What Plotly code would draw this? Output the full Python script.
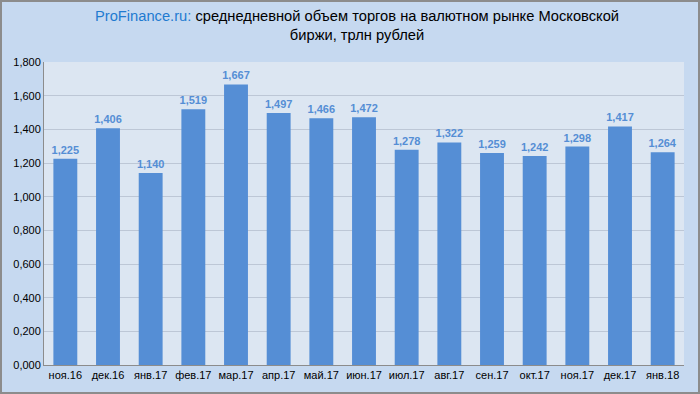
import plotly.graph_objects as go

categories = ["ноя.16", "дек.16", "янв.17", "фев.17", "мар.17", "апр.17", "май.17", "июн.17",
              "июл.17", "авг.17", "сен.17", "окт.17", "ноя.17", "дек.17", "янв.18"]
values = [1.225, 1.406, 1.140, 1.519, 1.667, 1.497, 1.466, 1.472,
          1.278, 1.322, 1.259, 1.242, 1.298, 1.417, 1.264]
y_ticks = [0, 0.2, 0.4, 0.6, 0.8, 1.0, 1.2, 1.4, 1.6, 1.8]

W, H = 700, 394
L, R, T, B = 44, 16, 62, 29
pw, ph = W - L - R, H - T - B

fig = go.Figure(go.Bar(
    x=categories, y=values,
    marker=dict(color="#558ED5", line=dict(width=0)),
    text=[f"{v:.3f}".replace(".", ",") for v in values],
    textposition="outside",
    constraintext="none",
    textfont=dict(family="Liberation Sans, Arial", size=11, color="#558ED5", weight="bold"),
    cliponaxis=False,
))

fig.update_layout(
    width=W, height=H,
    margin=dict(l=L, r=R, t=T, b=B),
    paper_bgcolor="#C6D9F0",
    plot_bgcolor="#DCE6F2",
    separators=", ",
    bargap=0.44,
    showlegend=False,
    font=dict(family="Liberation Sans, Arial", size=11, color="#000000"),
    xaxis=dict(showline=True, linecolor="#8C8C8C", linewidth=1, ticks="", showgrid=False,
               tickfont=dict(size=11, color="#000000")),
    yaxis=dict(range=[0, 1.8], tickvals=y_ticks, tickformat=".3f", showline=True,
               linecolor="#8C8C8C", linewidth=1, gridcolor="#BDC7D6", gridwidth=1,
               ticks="", zeroline=False, tickfont=dict(size=11, color="#000000")),
    annotations=[dict(
        xref="paper", yref="paper", x=(357 - L) / pw, y=1 + (T - 6) / ph,
        xanchor="center", yanchor="top",
        text="<span style='color:#1F7BD0'>ProFinance.ru:</span> среднедневной объем торгов на валютном рынке Московской<br>биржи, трлн рублей",
        showarrow=False, align="center",
        font=dict(family="Liberation Sans, Arial", size=14.7, color="#000000"),
    )],
    shapes=[dict(type="rect", xref="paper", yref="paper",
                 x0=-(L - 1) / pw, x1=1 + (R - 1) / pw, y0=-(B - 1) / ph, y1=1 + (T - 1) / ph,
                 line=dict(color="#8C8C8C", width=2), layer="above")],
)

fig.write_html("out.html", config={"displayModeBar": False},
               post_script="document.body.style.margin='0';")
